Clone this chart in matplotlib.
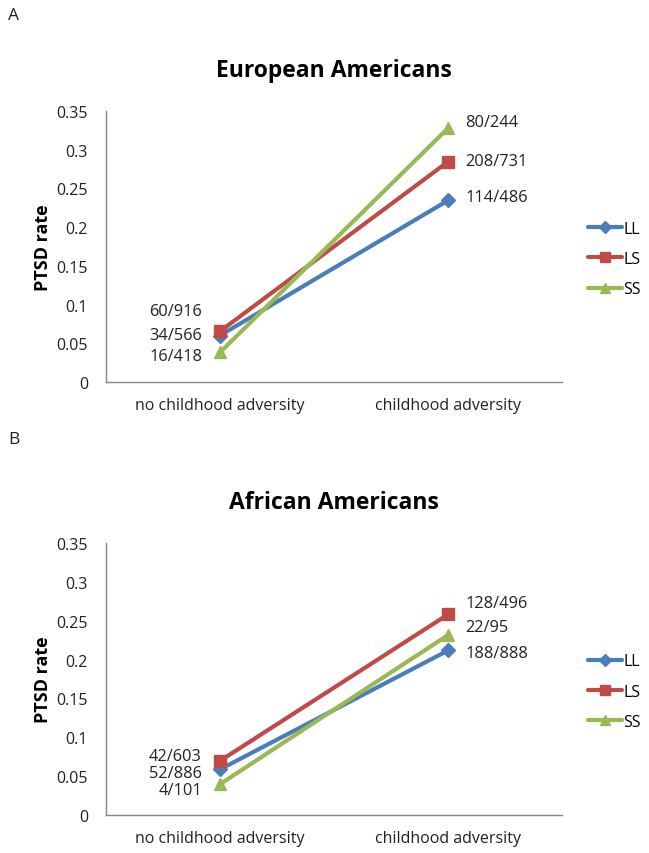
import matplotlib
matplotlib.use("Agg")
import matplotlib.pyplot as plt

# --------------------------------------
# Data
# --------------------------------------
conditions = ["no childhood adversity", "childhood adversity"]
genotypes = ["LL", "LS", "SS"]

# European Americans: cases / totals per genotype
ea_cases = {"LL": [34, 114], "LS": [60, 208], "SS": [16, 80]}
ea_totals = {"LL": [566, 486], "LS": [916, 731], "SS": [418, 244]}

# African Americans
aa_cases = {"LL": [52, 188], "LS": [42, 128], "SS": [4, 22]}
aa_totals = {"LL": [886, 888], "LS": [603, 496], "SS": [101, 95]}

colors = {"LL": "#4A7EBB", "LS": "#BE4B48", "SS": "#98B954"}
markers = {"LL": "D", "LS": "s", "SS": "^"}
msizes = {"LL": 7, "LS": 9, "SS": 9}

# label offsets in pixels (left point, right point)
ea_offsets = {"LL": [(-18, 1), (17, 3)], "LS": [(-18, 20), (17, 1)], "SS": [(-18, -4), (17, 6)]}
aa_offsets = {"LL": [(-18, -4), (17, -3)], "LS": [(-18, 5), (17, 11)], "SS": [(-18, -6), (17, 8)]}

plt.rcParams["font.family"] = ["Open Sans", "DejaVu Sans"]
TEXT = "#222222"

fig = plt.figure(figsize=(6.49, 8.54), dpi=100)


def draw_panel(rect, title, cases, totals, offsets, letter, letter_y):
    ax = fig.add_axes(rect)
    x = [0, 1]
    for g in genotypes:
        rates = [c / t for c, t in zip(cases[g], totals[g])]
        ax.plot(x, rates, color=colors[g], lw=3, marker=markers[g],
                ms=msizes[g], label=g, solid_capstyle="round")
        for i in range(2):
            dx, dy = offsets[g][i]
            ax.annotate(f"{cases[g][i]}/{totals[g][i]}", (x[i], rates[i]),
                        xytext=(dx, dy), textcoords="offset pixels",
                        ha="right" if i == 0 else "left", va="center",
                        fontsize=11.8, color=TEXT)

    ax.set_xlim(-0.5, 1.5)
    ax.set_ylim(0, 0.35)
    ax.set_xticks(x)
    ax.set_xticklabels(conditions)
    ax.set_yticks([0, 0.05, 0.1, 0.15, 0.2, 0.25, 0.3, 0.35])
    ax.set_yticklabels(["0", "0.05", "0.1", "0.15", "0.2", "0.25", "0.3", "0.35"])
    ax.tick_params(length=0, labelsize=11.5, colors=TEXT)
    ax.tick_params(axis="y", pad=13)
    ax.tick_params(axis="x", pad=11)
    for s in ["top", "right"]:
        ax.spines[s].set_visible(False)
    for s in ["left", "bottom"]:
        ax.spines[s].set_color("#868686")
        ax.spines[s].set_linewidth(1)

    ax.set_ylabel("PTSD rate", fontsize=13, fontweight="bold", color="black", labelpad=3)
    ax.set_title(title, fontsize=16.5, fontweight="bold", pad=25)

    ax.legend(loc="center left", bbox_to_anchor=(1.057, 0.454), frameon=False,
              borderaxespad=0, borderpad=0, handlelength=2.1, handletextpad=0.1,
              labelspacing=0.9, fontsize=11.5, markerscale=0.85)

    fig.text(0.012, letter_y, letter, fontsize=12.5, color=TEXT, va="center")
    return ax


draw_panel([0.1633, 0.5515, 0.7027, 0.3173], "European Americans",
           ea_cases, ea_totals, ea_offsets, "A", 1 - 16 / 854)
draw_panel([0.1633, 0.0445, 0.7027, 0.3185], "African Americans",
           aa_cases, aa_totals, aa_offsets, "B", 1 - 440 / 854)

fig.savefig("out.png", dpi=100)
